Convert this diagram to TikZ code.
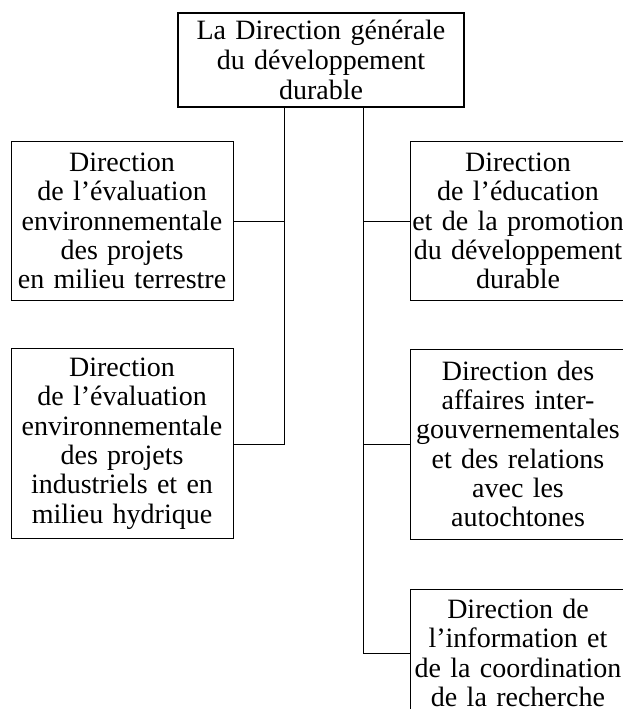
\documentclass[tikz,border=0pt]{standalone}
\usepackage{fontspec}
\setmainfont{Liberation Serif}
\begin{document}
\begin{tikzpicture}[x=0.75pt,y=-0.75pt,
  every node/.style={font=\fontsize{21}{22}\selectfont},
  unit/.style={draw, line width=0.75pt, rectangle, align=center, text width=160pt, inner sep=0pt, minimum width=166.5pt},
  runit/.style={unit, minimum width=162pt},
  headbox/.style={draw, line width=1.6pt, rectangle, align=center, text width=205pt, inner sep=0pt, minimum width=214.5pt, minimum height=70.5pt, font=\fontsize{21}{22.5}\selectfont},
  link/.style={line width=0.75pt}]
\useasboundingbox (0,0) rectangle (623,709);
\node[headbox] (top) at (321,60) {La Direction générale\\du développement\\durable};
\node[unit, minimum height=118.5pt] (l1) at (122,221) {Direction\\de l’évaluation\\environnementale\\des projets\\en milieu terrestre};
\node[unit, minimum height=142.5pt] (l2) at (122,443.5) {Direction\\de l’évaluation\\environnementale\\des projets\\industriels et en\\milieu hydrique};
\node[runit, minimum height=118.5pt] (r1) at (518,221) {Direction\\de l’éducation\\et de la promotion\\du développement\\durable};
\node[runit, minimum height=142.5pt] (r2) at (518,444) {Direction des\\affaires inter-\\gouvernementales\\et des relations\\avec les\\autochtones};
\node[runit, minimum height=96pt] (r3) at (518,653) {Direction de\\l’information et\\de la coordination\\de la recherche};
\coordinate (cl) at (284,0);
\coordinate (cr) at (363,0);
\draw[link] (cl |- top.south) -- (cl |- r2.west) -- (l2.east |- r2.west);
\draw[link] (cl |- l1.east) -- (l1.east);
\draw[link] (cr |- top.south) -- (cr |- r3.west) -- (r3.west);
\draw[link] (cr |- r1.west) -- (r1.west);
\draw[link] (cr |- r2.west) -- (r2.west);
\end{tikzpicture}
\end{document}
